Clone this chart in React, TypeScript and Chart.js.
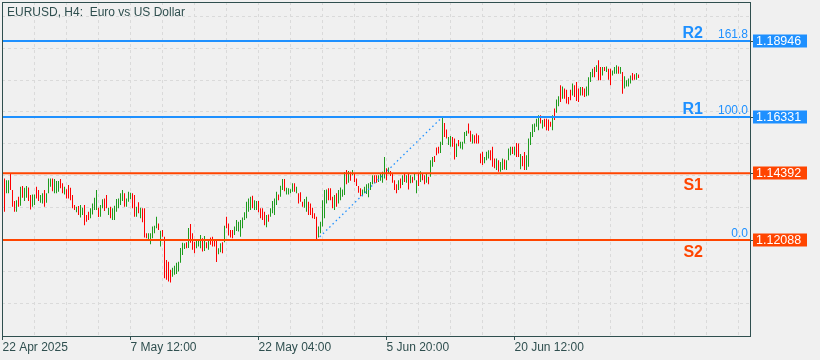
import React, { useEffect, useRef } from "react";
import { Chart, registerables } from "chart.js";

Chart.register(...registerables);

// ---- data (H4 EURUSD bars, index 0 = 22 Apr 2025 00:00) ----
const highs = [
  1.1430,
  1.1421, 1.1415, 1.1415, 1.1436, 1.1381, 1.1343, 1.1346, 1.1358, 1.1392, 1.1395,
  1.1389, 1.1395, 1.1390, 1.1364, 1.1366, 1.1366, 1.1392, 1.1381, 1.1364, 1.1370,
  1.1381, 1.1370, 1.1421, 1.1421, 1.1421, 1.1419, 1.1412, 1.1412, 1.1419, 1.1404,
  1.1392, 1.1384, 1.1398, 1.1389, 1.1364, 1.1329, 1.1323, 1.1326, 1.1329, 1.1320,
  1.1329, 1.1295, 1.1306, 1.1318, 1.1335, 1.1354, 1.1381, 1.1320, 1.1329, 1.1349,
  1.1352, 1.1364, 1.1320, 1.1323, 1.1318, 1.1327, 1.1350, 1.1352, 1.1370, 1.1381,
  1.1370, 1.1352, 1.1375, 1.1372, 1.1370, 1.1364, 1.1323, 1.1339, 1.1320, 1.1318,
  1.1318, 1.1232, 1.1232, 1.1232, 1.1255, 1.1258, 1.1289, 1.1266, 1.1241, 1.1243,
  1.1220, 1.1140, 1.1134, 1.1106, 1.1113, 1.1120, 1.1130, 1.1134, 1.1181, 1.1199,
  1.1198, 1.1201, 1.1250, 1.1264, 1.1232, 1.1203, 1.1206, 1.1206, 1.1226, 1.1215,
  1.1223, 1.1201, 1.1206, 1.1217, 1.1220, 1.1209, 1.1206, 1.1180, 1.1198, 1.1201,
  1.1258, 1.1289, 1.1266, 1.1243, 1.1243, 1.1255, 1.1278, 1.1272, 1.1278, 1.1286,
  1.1304, 1.1341, 1.1352, 1.1358, 1.1361, 1.1346, 1.1343, 1.1343, 1.1318, 1.1318,
  1.1306, 1.1295, 1.1297, 1.1318, 1.1343, 1.1352, 1.1375, 1.1366, 1.1396, 1.1419,
  1.1419, 1.1389, 1.1387, 1.1384, 1.1404, 1.1404, 1.1392, 1.1370, 1.1373, 1.1341,
  1.1350, 1.1358, 1.1341, 1.1335, 1.1320, 1.1301, 1.1289, 1.1255, 1.1272, 1.1346,
  1.1381, 1.1383, 1.1387, 1.1387, 1.1358, 1.1364, 1.1370, 1.1381, 1.1390, 1.1383,
  1.1443, 1.1450, 1.1447, 1.1444, 1.1450, 1.1436, 1.1421, 1.1395, 1.1387, 1.1383,
  1.1392, 1.1401, 1.1404, 1.1409, 1.1432, 1.1432, 1.1432, 1.1432, 1.1438, 1.1444,
  1.1495, 1.1456, 1.1459, 1.1447, 1.1438, 1.1415, 1.1401, 1.1415, 1.1421, 1.1432,
  1.1440, 1.1432, 1.1438, 1.1432, 1.1427, 1.1438, 1.1415, 1.1436, 1.1446, 1.1440,
  1.1432, 1.1438, 1.1427, 1.1484, 1.1495, 1.1498, 1.1528, 1.1530, 1.1547, 1.16331,
  1.1612, 1.1590, 1.1564, 1.1567, 1.1564, 1.1559, 1.1541, 1.1553, 1.1547, 1.1547,
  1.1581, 1.1585, 1.1610, 1.1585, 1.1573, 1.1570, 1.1576, 1.1570, 1.1507, 1.1513,
  1.1495, 1.1513, 1.1518, 1.1518, 1.1530, 1.1490, 1.1490, 1.1484, 1.1478, 1.1490,
  1.1486, 1.1484, 1.1524, 1.1530, 1.1530, 1.1530, 1.1543, 1.1541, 1.1505, 1.1498,
  1.1512, 1.1501, 1.1559, 1.1581, 1.1608, 1.1610, 1.1627, 1.1639, 1.1639, 1.1622,
  1.1627, 1.1627, 1.1624, 1.1616, 1.1639, 1.1662, 1.1693, 1.1704, 1.1742, 1.1738,
  1.1731, 1.1727, 1.1702, 1.1727, 1.1748, 1.1742, 1.1753, 1.1731, 1.1736, 1.1736,
  1.1731, 1.1738, 1.1770, 1.1788, 1.1799, 1.1805, 1.1811, 1.1828, 1.1805, 1.1805,
  1.1805, 1.1807, 1.1799, 1.1799, 1.1793, 1.1805, 1.1811, 1.1807, 1.1805, 1.1788,
  1.1773, 1.1759, 1.1765, 1.1776, 1.1784, 1.1780, 1.1784, 1.1779,
];

const lows = [
  1.1400,
  1.1306, 1.1370, 1.1370, 1.1381, 1.1323, 1.1306, 1.1306, 1.1323, 1.1327, 1.1354,
  1.1343, 1.1354, 1.1343, 1.1314, 1.1323, 1.1329, 1.1352, 1.1343, 1.1337, 1.1335,
  1.1323, 1.1337, 1.1370, 1.1392, 1.1377, 1.1370, 1.1370, 1.1375, 1.1387, 1.1370,
  1.1366, 1.1352, 1.1352, 1.1346, 1.1318, 1.1312, 1.1304, 1.1295, 1.1286, 1.1295,
  1.1260, 1.1272, 1.1278, 1.1284, 1.1297, 1.1312, 1.1312, 1.1288, 1.1289, 1.1318,
  1.1309, 1.1318, 1.1295, 1.1284, 1.1278, 1.1278, 1.1306, 1.1318, 1.1329, 1.1343,
  1.1323, 1.1323, 1.1341, 1.1349, 1.1318, 1.1289, 1.1289, 1.1301, 1.1284, 1.1270,
  1.1217, 1.1215, 1.1206, 1.1194, 1.1215, 1.1232, 1.1249, 1.1243, 1.1186, 1.1220,
  1.1077, 1.1072, 1.1066, 1.1062, 1.1082, 1.1089, 1.1092, 1.1100, 1.1130, 1.1157,
  1.1178, 1.1180, 1.1181, 1.1199, 1.1175, 1.1163, 1.1180, 1.1186, 1.1180, 1.1169,
  1.1171, 1.1180, 1.1175, 1.1192, 1.1186, 1.1186, 1.1133, 1.1160, 1.1167, 1.1163,
  1.1201, 1.1249, 1.1224, 1.1217, 1.1215, 1.1226, 1.1240, 1.1238, 1.1220, 1.1249,
  1.1278, 1.1284, 1.1306, 1.1312, 1.1318, 1.1312, 1.1312, 1.1304, 1.1284, 1.1278,
  1.1260, 1.1253, 1.1272, 1.1289, 1.1301, 1.1295, 1.1329, 1.1346, 1.1358, 1.1381,
  1.1377, 1.1366, 1.1366, 1.1370, 1.1375, 1.1375, 1.1370, 1.1335, 1.1341, 1.1323,
  1.1320, 1.1306, 1.1295, 1.1295, 1.1284, 1.1281, 1.12088, 1.1217, 1.1232, 1.1255,
  1.1284, 1.1335, 1.1346, 1.1346, 1.1318, 1.1312, 1.1323, 1.1335, 1.1346, 1.1358,
  1.1364, 1.1401, 1.1406, 1.1413, 1.1432, 1.1409, 1.1395, 1.1372, 1.1360, 1.1360,
  1.1370, 1.1367, 1.1356, 1.1381, 1.1401, 1.1404, 1.1406, 1.1409, 1.1413, 1.1406,
  1.1421, 1.1415, 1.1438, 1.1429, 1.1406, 1.1381, 1.1370, 1.1381, 1.1387, 1.1398,
  1.1409, 1.1406, 1.1383, 1.1404, 1.1406, 1.1415, 1.1370, 1.1395, 1.1409, 1.1415,
  1.1401, 1.1406, 1.1401, 1.1427, 1.1461, 1.1478, 1.1501, 1.1507, 1.1509, 1.1536,
  1.1564, 1.1559, 1.1536, 1.1530, 1.1530, 1.1486, 1.1495, 1.1532, 1.1524, 1.1521,
  1.1541, 1.1567, 1.1576, 1.1547, 1.1541, 1.1541, 1.1541, 1.1541, 1.1473, 1.1467,
  1.1473, 1.1484, 1.1490, 1.1484, 1.1461, 1.1456, 1.1450, 1.1444, 1.1444, 1.1450,
  1.1452, 1.1450, 1.1484, 1.1501, 1.1505, 1.1501, 1.1495, 1.1495, 1.1453, 1.1463,
  1.1450, 1.1450, 1.1461, 1.1536, 1.1564, 1.1581, 1.1599, 1.1587, 1.1610, 1.1593,
  1.1599, 1.1587, 1.1585, 1.1599, 1.1587, 1.1622, 1.1647, 1.1670, 1.1684, 1.1696,
  1.1696, 1.1679, 1.1677, 1.1690, 1.1707, 1.1702, 1.1688, 1.1684, 1.1707, 1.1707,
  1.1702, 1.1704, 1.1707, 1.1753, 1.1770, 1.1770, 1.1788, 1.1759, 1.1759, 1.1776,
  1.1791, 1.1788, 1.1761, 1.1742, 1.1776, 1.1782, 1.1782, 1.1782, 1.1782, 1.1713,
  1.1731, 1.1738, 1.1738, 1.1748, 1.1759, 1.1761, 1.1761, 1.1767,
];

// 1 = bullish (green), 0 = bearish (red)
const bullish = [
  0,
  0, 1, 1, 0, 0, 0, 1, 0, 1, 0,
  1, 1, 0, 0, 1, 1, 0, 0, 1, 1,
  0, 1, 1, 1, 0, 1, 1, 1, 0, 0,
  1, 0, 0, 0, 0, 0, 1, 0, 1, 1,
  0, 0, 0, 1, 1, 1, 1, 0, 1, 1,
  0, 0, 1, 0, 1, 1, 1, 1, 1, 1,
  0, 1, 1, 1, 0, 0, 1, 0, 1, 0,
  0, 0, 1, 1, 1, 1, 1, 0, 1, 0,
  0, 0, 0, 0, 1, 1, 1, 1, 1, 1,
  1, 0, 1, 0, 0, 0, 1, 1, 1, 0,
  1, 0, 1, 0, 0, 0, 0, 1, 1, 0,
  1, 0, 0, 0, 0, 1, 1, 1, 1, 1,
  1, 1, 1, 1, 0, 1, 1, 0, 0, 0,
  0, 1, 0, 1, 1, 1, 1, 0, 1, 1,
  0, 1, 1, 1, 1, 0, 1, 0, 0, 0,
  1, 1, 0, 0, 0, 0, 0, 1, 1, 1,
  1, 1, 0, 0, 0, 1, 0, 1, 1, 1,
  1, 0, 1, 0, 1, 0, 0, 0, 0, 1,
  1, 1, 1, 1, 1, 0, 0, 1, 1, 1,
  1, 0, 1, 0, 0, 0, 0, 1, 0, 1,
  0, 1, 0, 1, 0, 1, 1, 0, 1, 0,
  0, 1, 0, 1, 1, 0, 0, 0, 1, 1,
  0, 0, 1, 1, 0, 0, 1, 0, 1, 1,
  1, 1, 0, 0, 1, 0, 0, 0, 0, 0,
  1, 1, 1, 0, 0, 0, 1, 0, 1, 1,
  0, 1, 1, 1, 0, 1, 0, 0, 1, 0,
  0, 1, 1, 1, 1, 1, 1, 1, 0, 1,
  0, 0, 0, 0, 1, 0, 1, 1, 0, 1,
  0, 0, 0, 0, 1, 0, 0, 0, 1, 0,
  0, 1, 1, 1, 1, 0, 1, 0, 0, 1,
  0, 1, 0, 0, 1, 1, 1, 0, 1, 0,
  1, 1, 1, 1, 0, 0, 1, 0,
];

const dateLabels = ["22 Apr 2025", "7 May 12:00", "22 May 04:00", "5 Jun 20:00", "20 Jun 12:00"];
const barsPerDateLabel = 64;
const barsPerGridLine = 16;
const gridPrices = [1.099, 1.11, 1.121, 1.132, 1.143, 1.154, 1.165, 1.176, 1.187, 1.198];

const levelNames = ["R2", "R1", "S1", "S2"];
const levelPrices = [1.18946, 1.16331, 1.14392, 1.12088];
const levelColors = ["#1e90ff", "#1e90ff", "#ff4500", "#ff4500"];

const fiboTexts = ["161.8", "100.0", "0.0"];
const fiboTextPrices = [1.18946, 1.16331, 1.12088];
const fiboAnchorIndex = [157, 220];
const fiboAnchorPrice = [1.12088, 1.16331];

const titleText = "EURUSD, H4:  Euro vs US Dollar";

const X_MIN = -0.25;
const X_MAX = 373.75;
const Y_MIN = 1.087796;
const Y_MAX = 1.2029;

const FONT = "'Liberation Sans', Arial, sans-serif";
const FRAME = "#2f4f4f";
const GREEN = "#1e9b1e";
const RED = "#ff0000";
const BG = "#f0f0f0";

function isDateTick(v: number) {
  return v % barsPerDateLabel === 0 && v / barsPerDateLabel < dateLabels.length;
}

export default function App() {
  const ref = useRef<HTMLCanvasElement | null>(null);

  useEffect(() => {
    const canvas = ref.current;
    if (!canvas) return;

    const barData = highs.map((h, i) => ({ x: i, y: [lows[i], h] }));
    const barColors = bullish.map((b) => (b ? GREEN : RED));

    const levelSets = levelPrices.map((p, i) => ({
      type: "line" as const,
      data: [
        { x: X_MIN, y: p },
        { x: X_MAX, y: p },
      ],
      borderColor: levelColors[i],
      borderWidth: 2,
      pointRadius: 0,
      order: 1,
    }));

    const gridTicks: number[] = [];
    for (let v = 0; v <= X_MAX; v += barsPerGridLine) gridTicks.push(v);

    const bgPlugin = {
      id: "bg",
      beforeDraw(chart: any) {
        const c = chart.ctx;
        c.save();
        c.fillStyle = BG;
        c.fillRect(0, 0, chart.width, chart.height);
        c.restore();
      },
    };

    const overlay = {
      id: "overlay",
      afterDraw(chart: any) {
        const c = chart.ctx as CanvasRenderingContext2D;
        const a = chart.chartArea;
        const ys = chart.scales.y;
        c.save();
        // frame
        c.strokeStyle = FRAME;
        c.lineWidth = 1;
        c.strokeRect(a.left + 0.5, a.top + 0.5, a.right - a.left, a.bottom - a.top);

        // title
        c.fillStyle = FRAME;
        c.font = `12px ${FONT}`;
        c.textAlign = "left";
        c.textBaseline = "alphabetic";
        c.fillText(titleText, 7, 16);

        // level names and right-scale price boxes
        levelPrices.forEach((p, i) => {
          const y = Math.round(ys.getPixelForValue(p));
          c.font = `bold 16px ${FONT}`;
          c.fillStyle = levelColors[i];
          c.textAlign = "right";
          const above = levelNames[i].startsWith("R");
          c.fillText(levelNames[i], 703, above ? y - 3 : y + 17);

          c.fillStyle = levelColors[i];
          c.fillRect(a.right + 3, y - 6.5, 54, 13);
          c.strokeStyle = FRAME;
          c.beginPath();
          c.moveTo(a.right, y + 0.5);
          c.lineTo(a.right + 3, y + 0.5);
          c.stroke();
          c.fillStyle = "#ffffff";
          c.font = `12.5px ${FONT}`;
          c.textAlign = "left";
          c.textBaseline = "middle";
          c.fillText(p.toFixed(5), a.right + 6, y + 0.5);
          c.textBaseline = "alphabetic";
        });

        // fibo percentages
        fiboTexts.forEach((t, i) => {
          const y = Math.round(ys.getPixelForValue(fiboTextPrices[i]));
          c.font = `12px ${FONT}`;
          c.fillStyle = "#1e90ff";
          c.textAlign = "right";
          c.fillText(t, a.right - 2, y - 3.5);
        });
        c.restore();
      },
    };

    const chart = new Chart(canvas, {
      type: "bar",
      data: {
        datasets: [
          ...levelSets,
          {
            type: "line" as const,
            data: fiboAnchorIndex.map((x, i) => ({ x, y: fiboAnchorPrice[i] })),
            borderColor: "#1e90ff",
            borderWidth: 1.3,
            borderDash: [1.5, 3],
            pointRadius: 0,
            order: 2,
          },
          {
            type: "bar" as const,
            data: barData as any,
            backgroundColor: barColors,
            borderWidth: 0,
            barThickness: 1,
            inflateAmount: 0,
            order: 3,
          } as any,
        ],
      },
      options: {
        responsive: false,
        animation: false,
        events: [],
        layout: { padding: { left: 2, top: 2, right: 0, bottom: 0 } },
        plugins: {
          legend: { display: false },
          tooltip: { enabled: false },
          title: { display: false },
        },
        scales: {
          x: {
            type: "linear",
            position: "bottom",
            min: X_MIN,
            max: X_MAX,
            offset: false,
            afterBuildTicks: (s: any) => {
              s.ticks = gridTicks.map((v) => ({ value: v }));
            },
            afterFit: (s: any) => {
              s.height = 24;
            },
            ticks: {
              autoSkip: false,
              maxRotation: 0,
              minRotation: 0,
              align: "start",
              padding: 0,
              color: FRAME,
              font: { family: FONT, size: 12 },
              callback: (v: any) => (isDateTick(v) ? dateLabels[v / barsPerDateLabel] : ""),
            },
            grid: {
              offset: false,
              color: "#dadada",
              lineWidth: 1,
              tickLength: 4,
              tickColor: (ctx: any) =>
                ctx.tick && isDateTick(ctx.tick.value) ? FRAME : "rgba(0,0,0,0)",
            },
            border: { display: false, dash: [3, 3] },
          },
          y: {
            type: "linear",
            position: "right",
            min: Y_MIN,
            max: Y_MAX,
            afterBuildTicks: (s: any) => {
              s.ticks = gridPrices.map((v) => ({ value: v }));
            },
            afterFit: (s: any) => {
              s.width = 70;
            },
            ticks: { display: false },
            grid: { color: "#dadada", lineWidth: 1, drawTicks: false },
            border: { display: false, dash: [3, 3] },
          },
        },
      } as any,
      plugins: [bgPlugin, overlay],
    });

    return () => chart.destroy();
  }, []);

  return (
    <div style={{ position: "fixed", left: 0, top: 0, width: 820, height: 360, background: BG }}>
      <canvas ref={ref} width={820} height={360} style={{ display: "block" }} />
    </div>
  );
}
